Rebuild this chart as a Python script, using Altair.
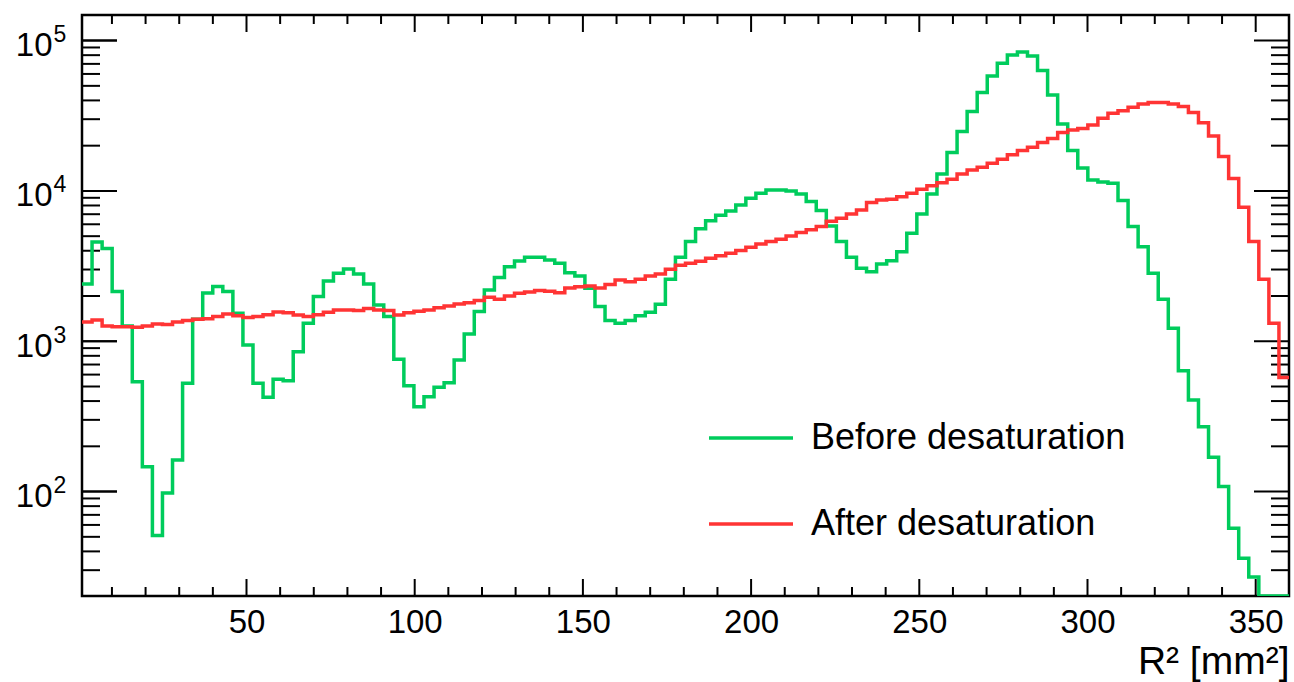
import altair as alt
import pandas as pd

# ---- histogram binning (R^2 in mm^2) ----
BIN_START = 1.1
BIN_WIDTH = 2.99
X_MIN, X_MAX = 1.1, 359.9
Y_MIN, Y_MAX = 20.2, 148000

series_names = ["Before desaturation", "After desaturation"]
series_colors = ["#00cc5c", "#ff3434"]

# bin contents (empty bins, drawn on the axis, given as 1)
before_desat = [
    2400, 4580, 4140, 2140, 1265, 538, 146, 51, 98, 162,
    525, 1400, 2090, 2310, 2140, 1535, 945, 525, 424, 559,
    547, 853, 1318, 1982, 2518, 2833, 3027, 2805, 2405, 1745,
    1460, 759, 505, 367, 428, 494, 530, 751, 1118, 1577,
    2195, 2650, 3136, 3420, 3620, 3620, 3475, 3300, 2860, 2717,
    2250, 1700, 1372, 1318, 1372, 1480, 1560, 1763, 2584, 3620,
    4600, 5610, 6340, 6880, 7360, 8070, 8940, 9650, 10160, 10160,
    10000, 9550, 8490, 7400, 5850, 4600, 3620, 3060, 2904, 3266,
    3436, 3945, 5230, 7030, 9550, 12980, 17990, 24820, 33720, 45080,
    58210, 70770, 80340, 84100, 79120, 63150, 43500, 27900, 18540, 14200,
    11830, 11480, 11250, 8620, 5800, 4260, 2833, 1903, 1220, 637,
    407, 270, 169, 108, 57, 36, 27, 1, 1, 1,
]
after_desat = [
    1343, 1386, 1265, 1250, 1250, 1240, 1265, 1300, 1290, 1343,
    1372, 1400, 1413, 1460, 1520, 1480, 1440, 1460, 1500, 1567,
    1550, 1496, 1460, 1503, 1560, 1615, 1615, 1600, 1650, 1615,
    1600, 1496, 1550, 1585, 1615, 1668, 1719, 1772, 1806, 1864,
    1963, 1903, 2000, 2085, 2128, 2173, 2150, 2105, 2260, 2306,
    2330, 2260, 2385, 2560, 2484, 2584, 2717, 2805, 3013, 3206,
    3300, 3405, 3566, 3698, 3853, 4010, 4220, 4440, 4600, 4770,
    5020, 5285, 5510, 5800, 6280, 6580, 7030, 7480, 8360, 8710,
    8810, 9160, 9650, 10260, 10840, 11350, 11960, 12980, 13800, 14380,
    15290, 16260, 17380, 18540, 19540, 20960, 22280, 24430, 25460, 26000,
    27480, 30470, 32890, 34200, 36030, 37930, 38730, 38730, 37930, 36390,
    33200, 28440, 23220, 16920, 12080, 7790, 4600, 2584, 1318, 573,
]

x_major_ticks = [50, 100, 150, 200, 250, 300, 350]
x_minor_ticks = [10, 20, 30, 40, 60, 70, 80, 90, 110, 120, 130, 140, 160, 170, 180, 190,
                 210, 220, 230, 240, 260, 270, 280, 290, 310, 320, 330, 340]
y_major_ticks = [100, 1000, 10000, 100000]
y_minor_ticks = [30, 40, 50, 60, 70, 80, 90,
                 200, 300, 400, 500, 600, 700, 800, 900,
                 2000, 3000, 4000, 5000, 6000, 7000, 8000, 9000,
                 20000, 30000, 40000, 50000, 60000, 70000, 80000, 90000]

W, H = 1207, 581
FONT = "Liberation Sans"

rows = []
for name, vals in zip(series_names, [before_desat, after_desat]):
    for k, v in enumerate(vals):
        rows.append({"x": BIN_START + k * BIN_WIDTH, "v": v, "s": name, "o": k})
    rows.append({"x": BIN_START + len(vals) * BIN_WIDTH, "v": vals[-1], "s": name, "o": len(vals)})
df = pd.DataFrame(rows)

xscale = alt.Scale(domain=[X_MIN, X_MAX], nice=False, zero=False)
yscale = alt.Scale(type="log", domain=[Y_MIN, Y_MAX], nice=False, clamp=True)

x_axis = alt.Axis(values=x_major_ticks, format="d", ticks=False, tickSize=0,
                  domain=False, grid=False, labelFontSize=33, labelFont=FONT,
                  labelColor="black", labelPadding=10, labelFlush=False,
                  title="R² [mm²]", titleFontSize=39, titleFont=FONT,
                  titleFontWeight="normal", titleColor="black",
                  titleAnchor="end", titleAlign="right", titleX=W, titleY=77,
                  titleBaseline="alphabetic")


def xticks(vals, length):
    d = pd.DataFrame({"x": vals})
    base = alt.Chart(d).mark_rule(color="black", strokeWidth=2)
    bottom = base.encode(x=alt.X("x:Q", scale=xscale, axis=x_axis),
                         y=alt.value(H), y2=alt.value(H - length))
    top = base.encode(x=alt.X("x:Q", scale=xscale, axis=x_axis),
                      y=alt.value(0), y2=alt.value(length))
    return [bottom, top]


def yticks(vals, length):
    d = pd.DataFrame({"t": vals})
    base = alt.Chart(d).mark_rule(color="black", strokeWidth=2)
    left = base.encode(y=alt.Y("t:Q", scale=yscale, axis=None),
                       x=alt.value(0), x2=alt.value(length))
    right = base.encode(y=alt.Y("t:Q", scale=yscale, axis=None),
                        x=alt.value(W - length), x2=alt.value(W))
    return [left, right]


# exponent labels carried by a second left axis
exp_layer = alt.Chart(pd.DataFrame({"t": y_major_ticks})).mark_rule(color="black", strokeWidth=2).encode(
    y=alt.Y("t:Q", scale=yscale,
            axis=alt.Axis(orient="left", values=y_major_ticks,
                          labelExpr="'' + round(log(datum.value) / LN10)",
                          ticks=False, tickSize=0, domain=False, grid=False,
                          labelFontSize=23, labelFont=FONT, labelColor="black",
                          labelAlign="left", labelBaseline="middle",
                          labelPadding=29, labelOffset=-6, title=None)),
    x=alt.value(0), x2=alt.value(35),
)

lines = alt.Chart(df).mark_line(interpolate="step-after", strokeWidth=3.5, clip=True).encode(
    x=alt.X("x:Q", scale=xscale, axis=x_axis),
    y=alt.Y("v:Q", scale=yscale,
            axis=alt.Axis(orient="left", values=y_major_ticks, labelExpr="'10'",
                          ticks=False, tickSize=0, domain=False, grid=False,
                          labelFontSize=33, labelFont=FONT, labelColor="black",
                          labelAlign="right", labelBaseline="middle",
                          labelPadding=30, labelOffset=5, title=None)),
    color=alt.Color("s:N", scale=alt.Scale(domain=series_names, range=series_colors),
                    legend=alt.Legend(orient="none", legendX=625, legendY=379, title=None,
                                      symbolType="stroke", symbolSize=7056,
                                      symbolStrokeWidth=3.5, labelFontSize=36,
                                      labelFont=FONT, labelColor="black",
                                      labelOffset=16, rowPadding=24, padding=0,
                                      labelLimit=0)),
    order="o:Q",
)

layers = (xticks(x_major_ticks, 17) + xticks(x_minor_ticks, 9)
          + yticks(y_major_ticks, 35) + yticks(y_minor_ticks, 18)
          + [exp_layer, lines])

chart = alt.layer(*layers).resolve_axis(y="independent").properties(
    width=W, height=H,
    padding={"left": 82, "top": 15, "right": 5, "bottom": 86},
    autosize=alt.AutoSizeParams(type="none"),
).configure(background="white").configure_view(stroke="black", strokeWidth=2.5)

chart.save("out.html", embed_options={"renderer": "svg", "actions": False})
